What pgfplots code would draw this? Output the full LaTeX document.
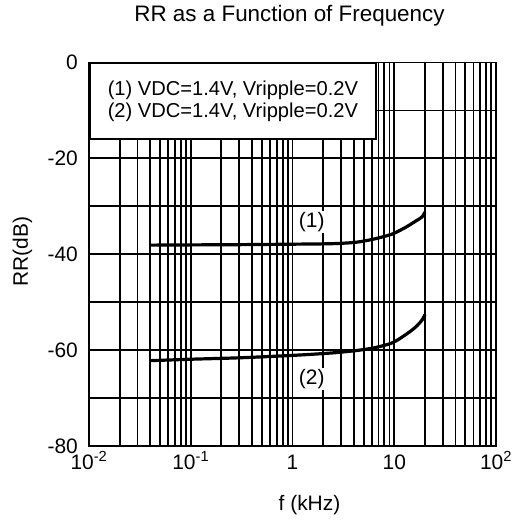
\documentclass[border=0pt]{standalone}
\usepackage{pgfplots}
\pgfplotsset{compat=1.18}
\usepackage{fontspec}
\setmainfont{Liberation Sans}
\begin{document}
\begin{tikzpicture}
\path[use as bounding box] (-89bp,-74bp) rectangle (423bp,446bp);
\begin{axis}[
  at={(0,0)}, anchor=south west,
  scale only axis, width=407bp, height=383.5bp,
  xmode=log, xmin=0.01, xmax=100, ymin=-80, ymax=0,
  xtick={0.01,0.1,1,10,100},
  xticklabels={10\textsuperscript{-2},10\textsuperscript{-1},1,10,10\textsuperscript{2}},
  minor xtick={0.02,0.03,0.04,0.05,0.06,0.07,0.08,0.09,0.2,0.3,0.4,0.5,0.6,0.7,0.8,0.9,2,3,4,5,6,7,8,9,20,30,40,50,60,70,80,90},
  ytick={-80,-60,-40,-20,0},
  yticklabels={-80,-60,-40,-20,0},
  minor ytick={-70,-50,-30,-10},
  grid=both,
  major grid style={black, line width=1.8bp},
  minor grid style={black, line width=1.8bp},
  axis line style={black, line width=1.8bp},
  tick style={black, line width=1.5bp},
  major tick length=6bp, minor tick length=5bp,
  tick label style={font=\fontsize{21}{24}\selectfont},
  xticklabel style={anchor=base, yshift=-23bp},
  yticklabel style={inner sep=0pt, xshift=-11bp},
  title={RR as a Function of Frequency},
  title style={font=\fontsize{22.5}{26}\selectfont, at={([xshift=-3bp,yshift=35.5bp]axis description cs:0.5,1)}, anchor=base},
  xlabel={f (kHz)},
  xlabel style={font=\fontsize{21}{24}\selectfont, at={([xshift=17bp,yshift=-64bp]axis description cs:0.5,0)}, anchor=base},
  ylabel={RR(dB)},
  ylabel style={font=\fontsize{21}{24}\selectfont, at={([xshift=-61bp,yshift=2.5bp]axis description cs:0,0.5)}, anchor=base, rotate=0},
  clip=true,
]
\addplot[black, line width=3.2bp, smooth, tension=0.5] coordinates {
  (0.04,-38.1) (0.1,-38.05) (0.3,-38.0) (1,-37.9) (2.4,-37.8) (4.2,-37.5)
  (6.4,-36.8) (9.5,-35.8) (12.9,-34.4) (16.2,-33.1) (18.8,-32.2) (20,-31.2)
};
\addplot[black, line width=3.2bp, smooth, tension=0.5] coordinates {
  (0.04,-62.2) (0.1,-61.9) (0.3,-61.6) (1,-61.1) (2.4,-60.6) (4.2,-60.1)
  (6.4,-59.5) (9.5,-58.5) (12.9,-56.8) (16.2,-55.2) (18.8,-53.7) (20,-52.6)
};
\node[fill=white, inner sep=1bp, font=\fontsize{21}{24}\selectfont] at (axis cs:1.545,-33.3) {(1)};
\node[fill=white, inner sep=1bp, font=\fontsize{21}{24}\selectfont] at (axis cs:1.545,-66.0) {(2)};
\node[draw=black, line width=1.8bp, fill=white, anchor=north west, minimum width=286bp, minimum height=75.5bp,
      inner sep=0pt, align=left, font=\fontsize{20.2}{21.5}\selectfont] at (rel axis cs:0,1)
  {(1) VDC=1.4V, Vripple=0.2V\\(2) VDC=1.4V, Vripple=0.2V};
\end{axis}
\end{tikzpicture}
\end{document}
